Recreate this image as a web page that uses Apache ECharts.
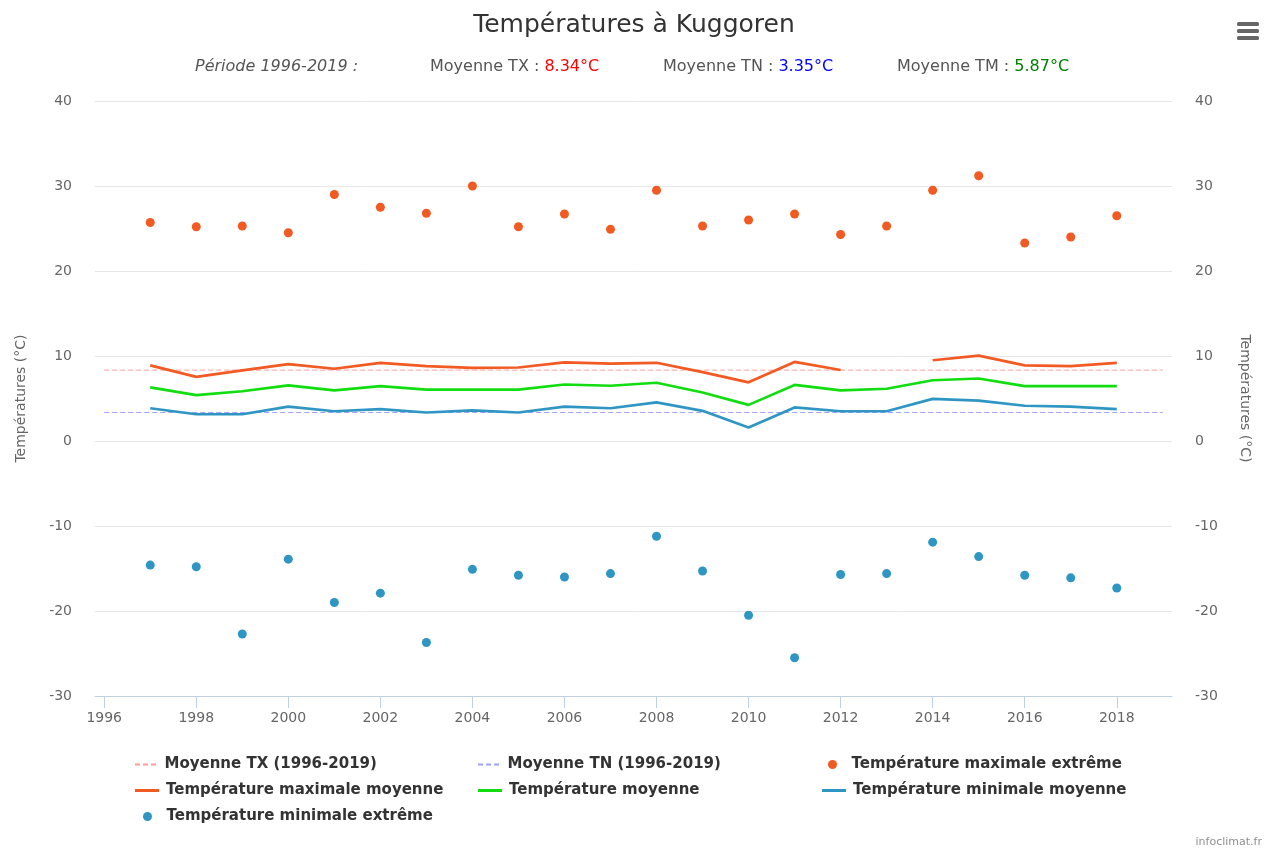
<!DOCTYPE html>
<html>
<head>
<meta charset="utf-8">
<script src="https://cdn.jsdelivr.net/npm/echarts@6/dist/echarts.min.js"></script>
<style>
html,body{margin:0;padding:0;background:#fff;}
#chart{width:1268px;height:851px;}
</style>
</head>
<body>
<div id="chart"></div>
<script>
const years = [1997,1998,1999,2000,2001,2002,2003,2004,2005,2006,2007,2008,2009,2010,2011,2012,2013,2014,2015,2016,2017,2018];
const txExtreme = [25.7,25.2,25.3,24.5,29.0,27.5,26.8,30.0,25.2,26.7,24.9,29.5,25.3,26.0,26.7,24.3,25.3,29.5,31.2,23.3,24.0,26.5];
const txMean = [8.9,7.55,8.3,9.05,8.5,9.2,8.8,8.6,8.65,9.25,9.1,9.2,8.1,6.9,9.3,8.35,null,9.5,10.05,8.9,8.8,9.2];
const tmMean = [6.3,5.4,5.85,6.55,5.95,6.45,6.05,6.05,6.05,6.65,6.5,6.85,5.7,4.25,6.6,5.95,6.15,7.15,7.35,6.45,6.45,6.45];
const tnMean = [3.85,3.15,3.15,4.05,3.5,3.75,3.35,3.6,3.35,4.05,3.85,4.55,3.55,1.6,3.95,3.5,3.5,4.95,4.75,4.15,4.05,3.75];
const tnExtreme = [-14.6,-14.8,-22.7,-13.9,-19.0,-17.9,-23.7,-15.1,-15.8,-16.0,-15.6,-11.2,-15.3,-20.5,-25.5,-15.7,-15.6,-11.9,-13.6,-15.8,-16.1,-17.3];
const periodStart = 1996, periodEnd = 2019;
const meanTX = 8.34, meanTN = 3.35, meanTM = 5.87;
const xTicks = [1996,1998,2000,2002,2004,2006,2008,2010,2012,2014,2016,2018];

const pair = arr => years.map((y,i) => [y, arr[i] == null ? '-' : arr[i]]);

const C_TX = '#f15a22', C_TM = '#11dd11', C_TN = '#2f96c4';
const C_TXM = '#ff9a9a', C_TNM = '#a0a0ff';
const FONT = '"DejaVu Sans", sans-serif';

const chart = echarts.init(document.getElementById('chart'));

const ICON_SOLID = 'path://M0,0H24V3H0Z';
const ICON_DASH = 'path://M0,0H5V2H0Z M8,0H13V2H8Z M16,0H21V2H16Z';
const legendItems = [
  {name:'Moyenne TX (1996-2019)', left:130, top:752, kind:'dash'},
  {name:'Moyenne TN (1996-2019)', left:473, top:752, kind:'dash'},
  {name:'Température maximale extrême', left:823, top:752, kind:'dot'},
  {name:'Température maximale moyenne', left:130, top:778, kind:'line'},
  {name:'Température moyenne', left:473, top:778, kind:'line'},
  {name:'Température minimale moyenne', left:817, top:778, kind:'line'},
  {name:'Température minimale extrême', left:138, top:804, kind:'dot'}
];

const option = {
  backgroundColor:'#fff',
  animation:false,
  title:{
    text:'Températures à Kuggoren',
    left:'center', top:8,
    textStyle:{fontFamily:FONT, fontSize:25, fontWeight:'normal', color:'#333'}
  },
  grid:{left:95, right:96, top:101, bottom:155, containLabel:false},
  legend: legendItems.map(it => ({
    data:[it.name], left:it.left, top:it.top, orient:'horizontal',
    icon: it.kind === 'dash' ? ICON_DASH : (it.kind === 'line' ? ICON_SOLID : 'circle'),
    itemWidth:24, itemHeight: it.kind === 'dot' ? 9 : (it.kind === 'dash' ? 2 : 3),
    textStyle:{fontFamily:FONT, fontSize:15, fontWeight:'bold', color:'#333', padding:[0,0,0,2]},
    selectedMode:false
  })),
  xAxis:{
    type:'value', min:1995.8, max:2019.2,
    axisLine:{show:true, onZero:false, lineStyle:{color:'#c0d0e0', width:1}},
    axisTick:{show:true, length:12, lineStyle:{color:'#c0d0e0'}, customValues:xTicks},
    axisLabel:{color:'#666', fontFamily:FONT, fontSize:14, margin:15, customValues:xTicks, formatter:v=>String(v)},
    splitLine:{show:false}
  },
  yAxis:[
    {type:'value', min:-30, max:40, interval:10, position:'left',
     name:'Températures (°C)', nameLocation:'middle', nameGap:67, nameRotate:90,
     nameTextStyle:{color:'#666', fontFamily:FONT, fontSize:14},
     axisLine:{show:false}, axisTick:{show:false},
     axisLabel:{color:'#666', fontFamily:FONT, fontSize:14, margin:23, align:'right'},
     splitLine:{lineStyle:{color:'#e6e6e6', width:1}}},
    {type:'value', min:-30, max:40, interval:10, position:'right',
     name:'Températures (°C)', nameLocation:'middle', nameGap:66, nameRotate:-90,
     nameTextStyle:{color:'#666', fontFamily:FONT, fontSize:14},
     axisLine:{show:false}, axisTick:{show:false},
     axisLabel:{color:'#666', fontFamily:FONT, fontSize:14, margin:23, align:'left'},
     splitLine:{show:false}}
  ],
  series:[
    {name:'Moyenne TX (1996-2019)', type:'line', data:[[periodStart,meanTX],[periodEnd,meanTX]],
     symbol:'none', lineStyle:{color:C_TXM, width:1, type:[5,3]}, itemStyle:{color:C_TXM}, z:1},
    {name:'Moyenne TN (1996-2019)', type:'line', data:[[periodStart,meanTN],[periodEnd,meanTN]],
     symbol:'none', lineStyle:{color:C_TNM, width:1, type:[5,3]}, itemStyle:{color:C_TNM}, z:1},
    {name:'Température maximale extrême', type:'scatter', data:pair(txExtreme),
     symbol:'circle', symbolSize:9, itemStyle:{color:C_TX, opacity:1}, z:5},
    {name:'Température maximale moyenne', type:'line', data:pair(txMean),
     symbol:'none', connectNulls:false, lineStyle:{color:C_TX, width:2.7}, itemStyle:{color:C_TX}, z:3},
    {name:'Température moyenne', type:'line', data:pair(tmMean),
     symbol:'none', lineStyle:{color:C_TM, width:2.7}, itemStyle:{color:C_TM}, z:3},
    {name:'Température minimale moyenne', type:'line', data:pair(tnMean),
     symbol:'none', lineStyle:{color:C_TN, width:2.7}, itemStyle:{color:C_TN}, z:3},
    {name:'Température minimale extrême', type:'scatter', data:pair(tnExtreme),
     symbol:'circle', symbolSize:9, itemStyle:{color:C_TN, opacity:1}, z:5}
  ],
  graphic:[
    {type:'text', left:195, top:59, style:{text:'Période 1996-2019 :', font:'italic 16px '+FONT, fill:'#555'}},
    {type:'text', left:430, top:59, style:{text:'{a|Moyenne TX : }{b|'+meanTX.toFixed(2)+'°C}',
      rich:{a:{font:'16px '+FONT, fill:'#555'}, b:{font:'16px '+FONT, fill:'#ff0000'}}}},
    {type:'text', left:663, top:59, style:{text:'{a|Moyenne TN : }{b|'+meanTN.toFixed(2)+'°C}',
      rich:{a:{font:'16px '+FONT, fill:'#555'}, b:{font:'16px '+FONT, fill:'#0000ff'}}}},
    {type:'text', left:897, top:59, style:{text:'{a|Moyenne TM : }{b|'+meanTM.toFixed(2)+'°C}',
      rich:{a:{font:'16px '+FONT, fill:'#555'}, b:{font:'16px '+FONT, fill:'#008000'}}}},
    {type:'group', left:1237, top:22, children:[
      {type:'rect', shape:{x:0,y:0,width:22,height:4,r:1.5}, style:{fill:'#666'}},
      {type:'rect', shape:{x:0,y:7,width:22,height:4,r:1.5}, style:{fill:'#666'}},
      {type:'rect', shape:{x:0,y:14,width:22,height:4,r:1.5}, style:{fill:'#666'}}
    ]},
    {type:'text', right:6, top:837, style:{text:'infoclimat.fr', font:'11px '+FONT, fill:'#909090'}}
  ]
};
chart.setOption(option);
</script>
</body>
</html>
